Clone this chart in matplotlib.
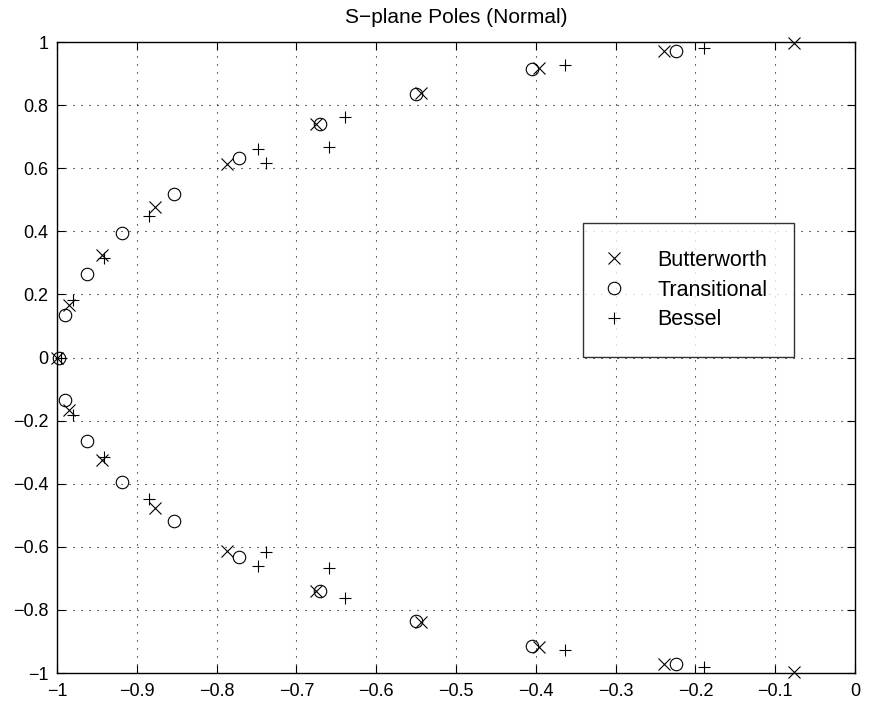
import matplotlib
matplotlib.use("Agg")
from matplotlib import pyplot as plt

plt.rcParams['font.family'] = ['Liberation Sans', 'DejaVu Sans']

butter_re = [-0.076, -0.239, -0.396, -0.544, -0.675, -0.787, -0.877, -0.944, -0.985, -1.0,
             -0.985, -0.944, -0.877, -0.787, -0.675, -0.544, -0.396, -0.239, -0.076]
butter_im = [0.998, 0.972, 0.917, 0.837, 0.739, 0.613, 0.476, 0.324, 0.166, 0.0,
             -0.166, -0.324, -0.476, -0.613, -0.739, -0.837, -0.917, -0.972, -0.998]

trans_re = [-0.224, -0.405, -0.550, -0.671, -0.772, -0.854, -0.918, -0.963, -0.990, -0.998,
            -0.990, -0.963, -0.918, -0.854, -0.772, -0.671, -0.550, -0.405, -0.224]
trans_im = [0.972, 0.914, 0.835, 0.739, 0.633, 0.518, 0.396, 0.266, 0.135, 0.0,
            -0.135, -0.266, -0.396, -0.518, -0.633, -0.739, -0.835, -0.914, -0.972]

bessel_re = [-0.189, -0.364, -0.639, -0.659, -0.748, -0.738, -0.885, -0.941, -0.980, -0.995,
             -0.980, -0.941, -0.885, -0.738, -0.748, -0.659, -0.639, -0.364, -0.189]
bessel_im = [0.981, 0.927, 0.763, 0.666, 0.660, 0.617, 0.449, 0.316, 0.182, 0.0,
             -0.182, -0.316, -0.449, -0.617, -0.660, -0.666, -0.763, -0.927, -0.981]

xticks = [-1, -0.9, -0.8, -0.7, -0.6, -0.5, -0.4, -0.3, -0.2, -0.1, 0]
xticklabels = ['\u22121', '\u22120.9', '\u22120.8', '\u22120.7', '\u22120.6', '\u22120.5',
               '\u22120.4', '\u22120.3', '\u22120.2', '\u22120.1', '0']
yticks = [-1, -0.8, -0.6, -0.4, -0.2, 0, 0.2, 0.4, 0.6, 0.8, 1]
yticklabels = ['\u22121', '\u22120.8', '\u22120.6', '\u22120.4', '\u22120.2', '0',
               '0.2', '0.4', '0.6', '0.8', '1']

fig = plt.figure(figsize=(8.69, 7.06), dpi=100)
ax = fig.add_axes([0.0656, 0.0467, 0.9184, 0.8938])

mk = dict(linestyle='none', color='black', markerfacecolor='none', markersize=9,
          markeredgewidth=0.8, clip_on=False)
ax.plot(butter_re, butter_im, marker='x', label='Butterworth', **mk)
ax.plot(trans_re, trans_im, marker='o', label='Transitional', **mk)
ax.plot(bessel_re, bessel_im, marker='+', label='Bessel', **mk)

ax.set_xlim(-1, 0)
ax.set_ylim(-1, 1)
ax.set_xticks(xticks)
ax.set_xticklabels(xticklabels, fontsize=13)
ax.set_yticks(yticks)
ax.set_yticklabels(yticklabels, fontsize=13)
ax.tick_params(direction='in', top=True, right=True, length=5.8, width=0.8)
ax.tick_params(axis='x', pad=7)
ax.tick_params(axis='y', pad=6)
ax.grid(True, linestyle=(0, (1, 6.2)), color='black', linewidth=0.8)
for s in ax.spines.values():
    s.set_linewidth(1.0)
ax.set_title('S\u2212plane Poles (Normal)', fontsize=15, pad=14)

leg = ax.legend(loc='upper left', bbox_to_anchor=(0.659, 0.713), fontsize=15.5,
                frameon=True, fancybox=False, edgecolor='black', borderpad=1.25,
                labelspacing=0.4, handlelength=0.4, handletextpad=1.8, borderaxespad=0)
leg.get_frame().set_linewidth(1.0)

fig.savefig('out.png', dpi=100)
